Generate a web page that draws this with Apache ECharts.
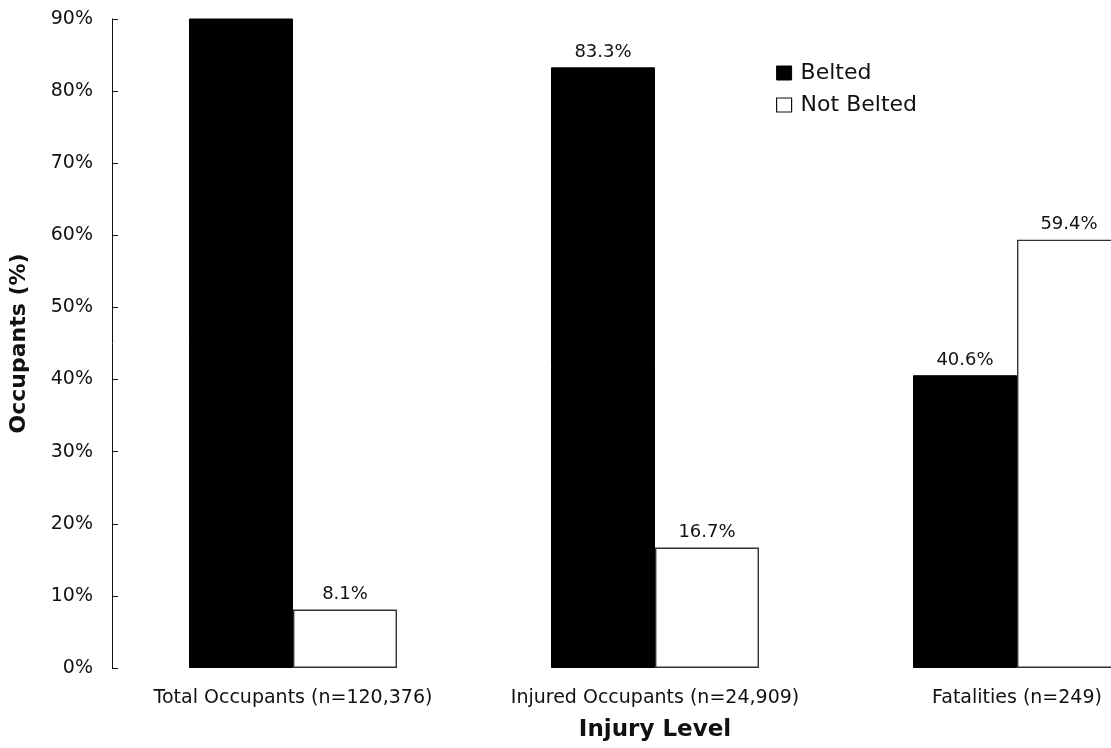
<!DOCTYPE html>
<html><head><meta charset="utf-8">
<script src="https://cdn.jsdelivr.net/npm/echarts@6/dist/echarts.min.js"></script>
<style>html,body{margin:0;padding:0;background:#fff}#c{width:1111px;height:748px}</style>
</head><body><div id="c"></div>
<script>
var categories = ['Total Occupants (n=120,376)', 'Injured Occupants (n=24,909)', 'Fatalities (n=249)'];
var belted = [91.9, 83.3, 40.6];
var notBelted = [8.1, 16.7, 59.4];
var yTicks = [0, 10, 20, 30, 40, 50, 60, 70, 80, 90];

var FONT = 'DejaVu Sans, Verdana, sans-serif';
var yMax = yTicks[yTicks.length - 1];
function lbl(p){ return p.value > yMax ? '' : p.value.toFixed(1) + '%'; }

var chart = echarts.init(document.getElementById('c'));
chart.setOption({
  animation: false,
  legend: {
    orient: 'vertical', left: 771, top: 57, itemWidth: 15, itemHeight: 14, itemGap: 10,
    icon: 'rect',
    textStyle: {fontFamily: FONT, fontSize: 22, color: '#111', padding: [0,0,0,4]},
    data: [
      {name: 'Belted', itemStyle: {color: '#000', borderColor: '#000', borderWidth: 1}},
      {name: 'Not Belted', itemStyle: {color: '#fff', borderColor: '#111', borderWidth: 1.2}}
    ]
  },
  grid: {left: 112, top: 19, width: 1086, height: 649, containLabel: false, outerBoundsMode: 'none'},
  xAxis: {
    type: 'category', data: categories,
    name: 'Injury Level', nameLocation: 'middle', nameGap: 51,
    nameTextStyle: {fontFamily: FONT, fontSize: 23, fontWeight: 'bold', color: '#111'},
    axisLine: {show: false}, axisTick: {show: false},
    axisLabel: {fontFamily: FONT, fontSize: 19, color: '#111', margin: 21, interval: 0}
  },
  yAxis: {
    type: 'value', min: 0, max: yMax, interval: 10,
    name: 'Occupants (%)', nameLocation: 'middle', nameGap: 82,
    nameTextStyle: {fontFamily: FONT, fontSize: 22, fontWeight: 'bold', color: '#111'},
    axisLine: {show: true, lineStyle: {color: '#111', width: 1}},
    axisTick: {show: true, inside: true, length: 6, lineStyle: {color: '#111'}},
    splitLine: {show: false},
    axisLabel: {fontFamily: FONT, fontSize: 19, color: '#111', margin: 19,
      formatter: function(v){ return v + '%'; }}
  },
  series: [
    {name: 'Belted', type: 'bar', data: belted, barWidth: 104, barGap: '0%',
     itemStyle: {color: '#000', borderColor: '#000', borderWidth: 1},
     label: {show: true, position: 'top', distance: 6, formatter: lbl,
       fontFamily: FONT, fontSize: 18, color: '#111'}},
    {name: 'Not Belted', type: 'bar', data: notBelted, barWidth: 104,
     itemStyle: {color: '#fff', borderColor: '#333', borderWidth: 1.4},
     label: {show: true, position: 'top', distance: 6, formatter: lbl,
       fontFamily: FONT, fontSize: 18, color: '#111'}}
  ]
});
</script></body></html>
